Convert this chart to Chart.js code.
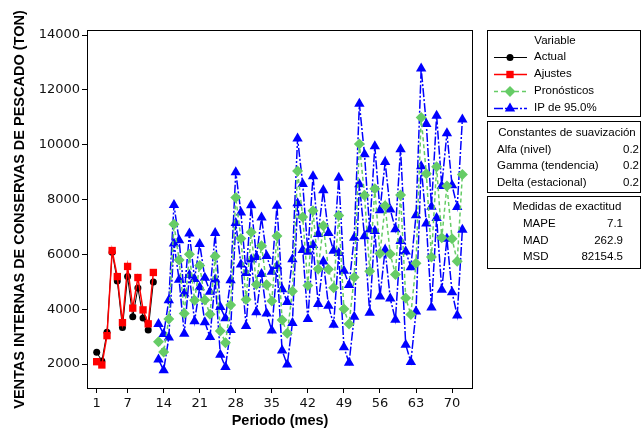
<!DOCTYPE html>
<html>
<head>
<meta charset="utf-8">
<script src="https://cdn.jsdelivr.net/npm/chart.js@4/dist/chart.umd.min.js"></script>
<style>
html,body{margin:0;padding:0;background:#fff;}
#wrap{width:642px;height:434px;position:relative;}
</style>
</head>
<body>
<div id="wrap"><canvas id="c" width="642" height="434"></canvas></div>
<script>
// ---------- DATA ----------
const periodsObs = [1,2,3,4,5,6,7,8,9,10,11,12];
const actual = [2430, 2110, 3160, 6080, 5030, 3330, 5190, 3720, 4770, 3680, 3240, 4990];
const fits   = [2085, 1965, 3035, 6140, 5190, 3510, 5560, 4040, 5155, 3975, 3465, 5340];

const periodsFc = [13,14,15,16,17,18,19,20,21,22,23,24,
                   25,26,27,28,29,30,31,32,33,34,35,36,
                   37,38,39,40,41,42,43,44,45,46,47,48,
                   49,50,51,52,53,54,55,56,57,58,59,60,
                   61,62,63,64,65,66,67,68,69,70,71,72];
const forecast = [2810, 2435, 3645, 7100, 5795, 3840, 6005, 4330, 5590, 4338, 3812, 5928,
                  3209, 2778, 4152, 8073, 6583, 4355, 6804, 4897, 6317, 4893, 4296, 6675,
                  3608, 3119, 4658, 9045, 7365, 4869, 7596, 5469, 7043, 5453, 4780, 7422,
                  4007, 3463, 5165, 10025, 8154, 5388, 8395, 6036, 7770, 6012, 5264, 8163,
                  4406, 3803, 5672, 10998, 8942, 5902, 9194, 6603, 8497, 6568, 5748, 8910];
const upper = [3457, 3099, 4327, 7800, 6513, 4576, 6759, 5102, 6381, 5148, 4641, 6776,
               4077, 3666, 5060, 9001, 7531, 5323, 7793, 5907, 7348, 5945, 5370, 7771,
               4726, 4259, 5820, 10229, 8572, 6099, 8849, 6745, 8343, 6777, 6128, 8794,
               5403, 4883, 6610, 11495, 9649, 6908, 9941, 7608, 9368, 7636, 6914, 9839,
               6109, 5533, 7429, 12782, 10754, 7742, 11062, 8499, 10421, 8520, 7729, 10920];
const lower = [2163, 1771, 2963, 6400, 5077, 3104, 5251, 3558, 4799, 3528, 2983, 5080,
               2341, 1890, 3244, 7145, 5635, 3387, 5815, 3887, 5286, 3841, 3222, 5579,
               2490, 1979, 3496, 7861, 6158, 3639, 6343, 4193, 5743, 4129, 3432, 6050,
               2611, 2043, 3720, 8555, 6659, 3868, 6849, 4464, 6172, 4388, 3614, 6487,
               2703, 2073, 3915, 9214, 7130, 4062, 7326, 4707, 6573, 4616, 3767, 6900];

const xTicks = [1,7,14,21,28,35,42,49,56,63,70];
const yTicks = [2000,4000,6000,8000,10000,12000,14000];

const legendTitle = 'Variable';
const legendLabels = ['Actual','Ajustes','Pronósticos','IP de 95.0%'];
const smoothTitle = 'Constantes de suavización';
const smoothLabels = ['Alfa (nivel)','Gamma (tendencia)','Delta (estacional)'];
const smoothValues = ['0.2','0.2','0.2'];
const accTitle = 'Medidas de exactitud';
const accLabels = ['MAPE','MAD','MSD'];
const accValues = ['7.1','262.9','82154.5'];

// ---------- STYLES ----------
const C_ACT = '#000000', C_FIT = '#FF0000', C_FC = '#66CC66', C_PI = '#0000FF';
const DASH_FC = [4,3], DASH_PI = [9,2,2,2];
const LEG_FONT = '11.5px "Liberation Sans", Arial, sans-serif';
const R_ACT = 3.5, R_FIT = 5.2, R_FC = 5.5, R_PI = 6;

const toXY = (xs, ys) => xs.map((x,i)=>({x:x, y:ys[i]}));

function marker(ctx, style, x, y, r, color){
  ctx.save();
  ctx.fillStyle = color; ctx.setLineDash([]);
  ctx.beginPath();
  if (style==='circle') ctx.arc(x,y,r,0,Math.PI*2);
  else if (style==='rect'){ const s=r*Math.SQRT1_2; ctx.rect(x-s,y-s,2*s,2*s); }
  else if (style==='rectRot'){ ctx.moveTo(x,y-r);ctx.lineTo(x+r,y);ctx.lineTo(x,y+r);ctx.lineTo(x-r,y);ctx.closePath(); }
  else if (style==='triangle'){ ctx.moveTo(x,y-r);ctx.lineTo(x+r*0.866,y+r*0.5);ctx.lineTo(x-r*0.866,y+r*0.5);ctx.closePath(); }
  ctx.fill();
  ctx.restore();
}

const legendStyles = [
  {color:C_ACT, dash:[], width:1, style:'circle', r:R_ACT},
  {color:C_FIT, dash:[], width:1.5, style:'rect', r:R_FIT},
  {color:C_FC, dash:DASH_FC, width:1.5, style:'rectRot', r:R_FC},
  {color:C_PI, dash:DASH_PI, width:1.5, style:'triangle', r:R_PI}
];

const framePlugin = {
  id:'frameAndLegend',
  afterDraw(chart){
    const ctx = chart.ctx, a = chart.chartArea;
    ctx.save();
    ctx.strokeStyle = '#000'; ctx.lineWidth = 1; ctx.setLineDash([]);
    ctx.strokeRect(Math.round(a.left)-0.5, Math.round(a.top)-0.5, Math.round(a.right-a.left)+1, Math.round(a.bottom-a.top)+1);

    // boxes
    ctx.strokeRect(487.5, 30.5, 153, 86);
    ctx.strokeRect(487.5, 121.5, 153, 71);
    ctx.strokeRect(487.5, 196.5, 153, 72);

    ctx.fillStyle = '#000';
    ctx.font = LEG_FONT;
    ctx.textBaseline = 'middle';

    // Variable legend
    ctx.textAlign = 'center';
    ctx.fillText(legendTitle, 555, 41);
    const rowsY = [57, 74, 91, 108];
    legendLabels.forEach((lab,i)=>{
      const st = legendStyles[i], y = rowsY[i];
      ctx.save();
      ctx.strokeStyle = st.color; ctx.lineWidth = st.width; ctx.setLineDash(st.dash);
      ctx.beginPath(); ctx.moveTo(494, y+0.5); ctx.lineTo(527, y+0.5); ctx.stroke();
      ctx.restore();
      marker(ctx, st.style, 510, y+0.5, st.r, st.color);
      ctx.fillStyle = '#000';
      ctx.textAlign = 'left';
      ctx.fillText(lab, 534, y);
    });

    // smoothing constants
    ctx.textAlign = 'center';
    ctx.fillText(smoothTitle, 567, 132.5);
    const sY = [149.5, 166, 182.5];
    smoothLabels.forEach((lab,i)=>{
      ctx.textAlign='left'; ctx.fillText(lab, 497, sY[i]);
      ctx.textAlign='right'; ctx.fillText(smoothValues[i], 639, sY[i]);
    });

    // accuracy
    ctx.textAlign = 'center';
    ctx.fillText(accTitle, 567, 207);
    const aY = [224, 240.5, 257];
    accLabels.forEach((lab,i)=>{
      ctx.textAlign='left'; ctx.fillText(lab, 523, aY[i]);
      ctx.textAlign='right'; ctx.fillText(accValues[i], 623, aY[i]);
    });
    ctx.restore();
  }
};

const tickFont = {family:'"DejaVu Sans", Verdana, sans-serif', size:13};
const titleFont = {family:'"Liberation Sans", Arial, sans-serif', size:14.5, weight:'bold'};

new Chart(document.getElementById('c'), {
  type:'line',
  data:{
    datasets:[
      {label:'Ajustes', data:toXY(periodsObs, fits), borderColor:C_FIT, backgroundColor:C_FIT,
       borderWidth:1.5, pointStyle:'rect', pointRadius:R_FIT, pointBorderWidth:0, pointBackgroundColor:C_FIT, tension:0},
      {label:'Actual', data:toXY(periodsObs, actual), borderColor:C_ACT, backgroundColor:C_ACT,
       borderWidth:1, pointStyle:'circle', pointRadius:R_ACT, pointBorderWidth:0, pointBackgroundColor:C_ACT, tension:0},
      {label:'Pronósticos', data:toXY(periodsFc, forecast), borderColor:C_FC, backgroundColor:C_FC,
       borderWidth:1.5, borderDash:DASH_FC, pointStyle:'rectRot', pointRadius:R_FC, pointBorderWidth:0, pointBackgroundColor:C_FC, tension:0},
      {label:'IP de 95.0% (sup)', data:toXY(periodsFc, upper), borderColor:C_PI, backgroundColor:C_PI,
       borderWidth:1.5, borderDash:DASH_PI, pointStyle:'triangle', pointRadius:R_PI, pointBorderWidth:0, pointBackgroundColor:C_PI, tension:0},
      {label:'IP de 95.0% (inf)', data:toXY(periodsFc, lower), borderColor:C_PI, backgroundColor:C_PI,
       borderWidth:1.5, borderDash:DASH_PI, pointStyle:'triangle', pointRadius:R_PI, pointBorderWidth:0, pointBackgroundColor:C_PI, tension:0}
    ]
  },
  options:{
    responsive:false, animation:false, devicePixelRatio:1,
    layout:{padding:{left:0, right:170, top:31, bottom:0}},
    plugins:{legend:{display:false}, tooltip:{enabled:false}},
    scales:{
      x:{type:'linear', min:-0.69, max:73.87,
        afterBuildTicks:s=>{ s.ticks = xTicks.map(v=>({value:v})); },
        afterFit:s=>{ s.height = 46; },
        grid:{display:true, drawOnChartArea:false, drawTicks:true, tickLength:5, color:'#000', lineWidth:1},
        border:{display:false},
        ticks:{autoSkip:false, maxRotation:0, minRotation:0, padding:3, color:'#111', font:tickFont, callback:v=>String(v)},
        title:{display:true, text:'Periodo (mes)', color:'#000', font:titleFont, padding:{top:0, bottom:4}}
      },
      y:{type:'linear', min:1125, max:14150,
        afterBuildTicks:s=>{ s.ticks = yTicks.map(v=>({value:v})); },
        afterFit:s=>{ s.width = 88; },
        grid:{display:true, drawOnChartArea:false, drawTicks:true, tickLength:6, color:'#000', lineWidth:1},
        border:{display:false},
        ticks:{autoSkip:false, padding:2, color:'#111', font:tickFont, callback:v=>String(v)},
        title:{display:true, text:'VENTAS INTERNAS DE CONSERVAS DE PESCADO (TON)', color:'#000', font:titleFont, padding:{top:11, bottom:0}}
      }
    }
  },
  plugins:[framePlugin]
});
</script>
</body>
</html>
